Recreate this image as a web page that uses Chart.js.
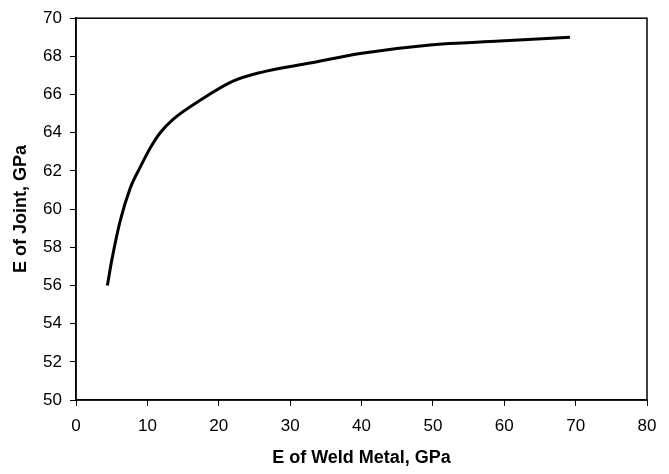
<!DOCTYPE html>
<html>
<head>
<meta charset="utf-8">
<script src="https://cdn.jsdelivr.net/npm/chart.js@4/dist/chart.umd.min.js"></script>
<style>
  html, body { margin: 0; padding: 0; background: #fff; }
  #wrap { width: 669px; height: 474px; }
</style>
</head>
<body>
<div id="wrap"><canvas id="myChart"></canvas></div>
<script>
// E of weld metal (GPa) vs E of joint (GPa)
var weldE  = [4.4, 5.0, 6.2, 7.6, 9.0, 10.4, 11.8, 13.6, 17.4, 22.0, 25.8, 32.8, 39.8, 49.6, 59.4, 69.2];
var jointE = [56.0, 57.3, 59.4, 61.1, 62.2, 63.2, 64.0, 64.7, 65.7, 66.7, 67.15, 67.65, 68.15, 68.6, 68.8, 69.0];

var xTicks = [0, 10, 20, 30, 40, 50, 60, 70, 80];
var yTicks = [50, 52, 54, 56, 58, 60, 62, 64, 66, 68, 70];

var pts = [];
for (var i = 0; i < weldE.length; i++) {
  pts.push({x: weldE[i], y: jointE[i]});
}

var font = "'Liberation Sans', Arial, sans-serif";

// box round the plot area
var boxPlugin = {
  id: 'box',
  afterDraw: function(chart) {
    var a = chart.chartArea, c = chart.ctx;
    c.save();
    c.strokeStyle = '#000';
    c.lineWidth = 1.5;
    c.strokeRect(a.left, a.top, a.right - a.left, a.bottom - a.top);
    c.restore();
  }
};

var ctx = document.getElementById('myChart').getContext('2d');
var myChart = new Chart(ctx, {
  type: 'line',
  data: {
    datasets: [{
      data: pts,
      borderColor: '#000',
      borderWidth: 3,
      pointRadius: 0,
      fill: false,
      cubicInterpolationMode: 'monotone'
    }]
  },
  options: {
    responsive: true,
    maintainAspectRatio: false,
    animation: false,
    layout: { padding: { top: 16, right: 22, left: 0, bottom: 0 } },
    plugins: {
      legend: { display: false },
      tooltip: { enabled: false }
    },
    scales: {
      x: {
        type: 'linear',
        min: 0, max: 80,
        afterBuildTicks: function(s) { s.ticks = xTicks.map(function(v) { return {value: v}; }); },
        afterFit: function(s) { s.height = 74; },
        grid: { display: true, drawOnChartArea: false, color: '#000', tickLength: 6 },
        border: { display: true, color: '#000', width: 1.5 },
        ticks: { color: '#000', font: { family: font, size: 17 }, padding: 10, maxRotation: 0 },
        title: { display: true, text: 'E of Weld Metal, GPa', color: '#000',
                 font: { family: font, size: 18, weight: 'bold' }, padding: { top: 5, bottom: 5 } }
      },
      y: {
        type: 'linear',
        min: 50, max: 70,
        afterBuildTicks: function(s) { s.ticks = yTicks.map(function(v) { return {value: v}; }); },
        afterFit: function(s) { s.width = 76; },
        grid: { display: true, drawOnChartArea: false, color: '#000', tickLength: 6 },
        border: { display: true, color: '#000', width: 1.5 },
        ticks: { color: '#000', font: { family: font, size: 17 }, padding: 8 },
        title: { display: true, text: 'E of Joint, GPa', color: '#000',
                 font: { family: font, size: 18, weight: 'bold' }, padding: { top: 10, bottom: 10 } }
      }
    }
  },
  plugins: [boxPlugin]
});
</script>
</body>
</html>
